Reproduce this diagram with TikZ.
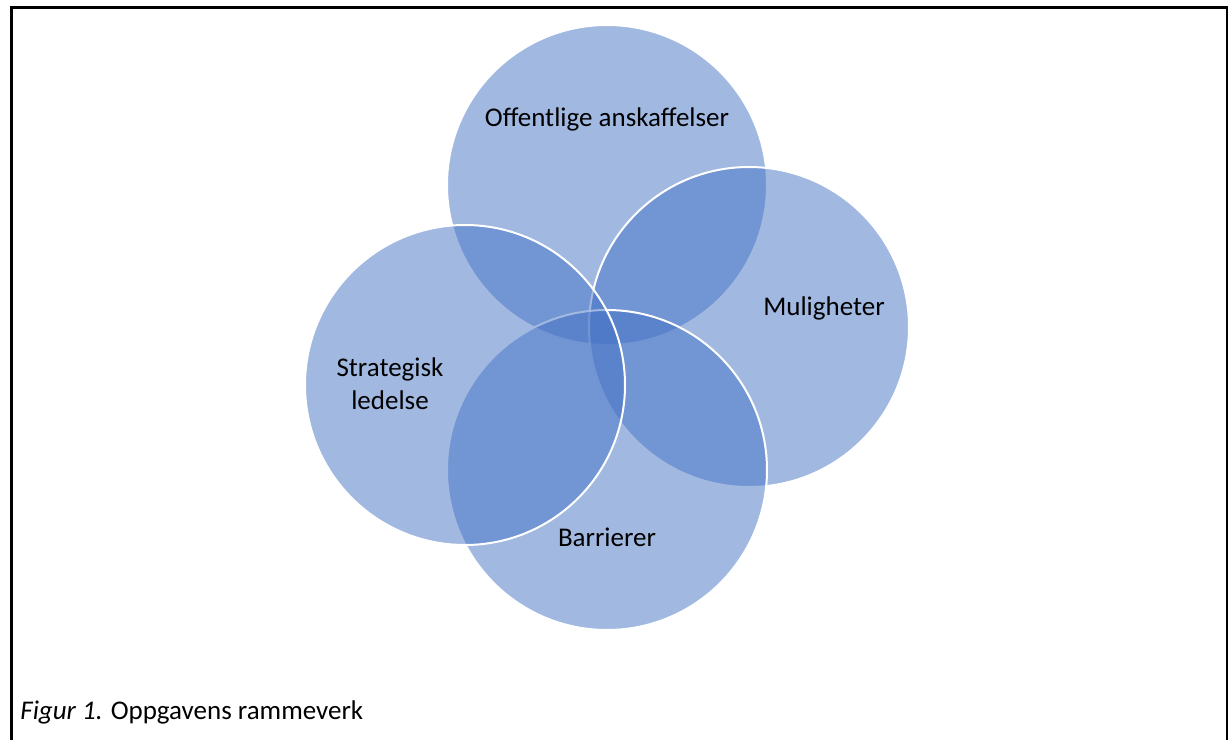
\documentclass[tikz,border=0pt]{standalone}
\usepackage{fontspec}
\setmainfont{Carlito}
\definecolor{accent}{HTML}{4472C4}

\begin{document}
\begin{tikzpicture}[x=0.5pt,y=-0.5pt]
    \tikzstyle{set}=[circle,draw=white,line width=1pt,fill=accent,fill opacity=0.5,minimum size=160pt,inner sep=0pt]
    \tikzstyle{setname}=[font=\fontsize{13.5}{16.5}\selectfont,align=center,inner sep=0pt]

    \useasboundingbox (0,0) rectangle (1228,740);
    \draw [line width=1.5pt] (11,7) rectangle (1227,760);

    % the four sets, later ones on top
    \node [set] at (607,185) (procurement)   {};
    \node [set] at (749,327) (opportunities) {};
    \node [set] at (607,470) (barriers)      {};
    \node [set] at (465,385) (strategy)      {};

    \node [setname] at (607,119) (procurementname)   {Offentlige anskaffelser};
    \node [setname] at (824,308) (opportunitiesname) {Muligheter};
    \node [setname] at (607,537) (barriersname)      {Barrierer};
    \node [setname] at (390,384) (strategyname)      {Strategisk\\ ledelse};

    \node [setname,anchor=west] at (20,712) (caption) {\textit{Figur 1.} Oppgavens rammeverk};

\end{tikzpicture}
\end{document}
